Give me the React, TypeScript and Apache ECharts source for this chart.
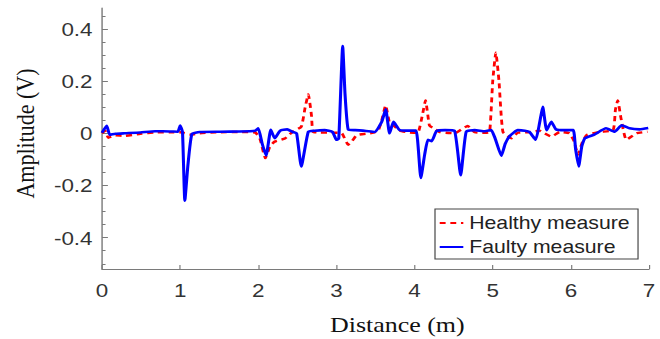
import React, { useEffect, useRef } from "react";
import * as echarts from "echarts";

// ---- data ----
const xTicks = [0, 1, 2, 3, 4, 5, 6, 7];
const yTicks = [-0.4, -0.2, 0, 0.2, 0.4];
const yMinorTicks = [-0.5, -0.45, -0.35, -0.3, -0.25, -0.15, -0.1, -0.05, 0.05, 0.1, 0.15, 0.25, 0.3, 0.35, 0.45];
const seriesNames = ["Healthy measure", "Faulty measure"];

const healthyDistance = [
  0.0, 0.04, 0.08, 0.17, 0.29, 0.49, 0.68, 0.87, 1.0, 1.14, 1.25, 1.51, 1.76, 1.96, 2.02, 2.09, 2.15, 2.21,
  2.34, 2.44, 2.55, 2.6, 2.64, 2.68, 2.7, 2.79, 2.98, 3.07, 3.15, 3.2, 3.26, 3.43, 3.53, 3.58, 3.63, 3.68,
  3.73, 3.81, 3.94, 4.04, 4.1, 4.14, 4.19, 4.24, 4.32, 4.51, 4.68, 4.77, 4.9, 4.96, 5.0, 5.04, 5.08, 5.13,
  5.24, 5.32, 5.47, 5.6, 5.66, 5.75, 5.86, 5.98, 6.04, 6.09, 6.14, 6.2, 6.37, 6.54, 6.57, 6.6, 6.64, 6.71,
  6.84, 6.98,
];
const healthyAmplitude = [
  0.0, 0.01, -0.017, -0.008, -0.01, -0.002, 0.003, 0.004, 0.004, -0.005, 0.0, 0.004, 0.005, 0.003, -0.02,
  -0.095, -0.05, -0.032, -0.02, 0.006, 0.025, 0.1, 0.149, 0.07, 0.006, 0.003, 0.002, 0.0, -0.044, -0.03,
  -0.007, 0.0, 0.008, 0.05, 0.107, 0.04, 0.03, 0.01, 0.003, 0.002, 0.07, 0.126, 0.03, 0.02, 0.005, 0.0,
  0.028, 0.004, 0.002, 0.005, 0.2, 0.309, 0.2, 0.006, -0.019, 0.002, 0.004, 0.01, 0.0, -0.013, 0.005, 0.0,
  -0.03, -0.082, -0.04, -0.007, 0.005, 0.012, 0.09, 0.126, 0.06, -0.025, 0.0, 0.006,
];

const faultyDistance = [
  0.0, 0.06, 0.1, 0.17, 0.29, 0.49, 0.68, 0.87, 0.97, 1.0, 1.03, 1.06, 1.1, 1.15, 1.25, 1.51, 1.76, 1.96,
  2.0, 2.05, 2.1, 2.16, 2.21, 2.28, 2.37, 2.44, 2.49, 2.55, 2.64, 2.72, 2.85, 2.95, 3.0, 3.03, 3.08, 3.11,
  3.15, 3.24, 3.36, 3.49, 3.58, 3.63, 3.68, 3.73, 3.81, 3.94, 4.02, 4.08, 4.13, 4.17, 4.22, 4.28, 4.39,
  4.51, 4.59, 4.66, 4.77, 4.9, 4.98, 5.03, 5.11, 5.16, 5.22, 5.32, 5.41, 5.47, 5.55, 5.6, 5.64, 5.69, 5.75,
  5.81, 5.92, 6.03, 6.06, 6.1, 6.14, 6.18, 6.3, 6.45, 6.56, 6.65, 6.75, 6.88, 6.99,
];
const faultyAmplitude = [
  0.002, 0.029, -0.006, -0.002, 0.0, 0.003, 0.008, 0.007, 0.006, 0.03, 0.005, -0.258, -0.12, -0.003, 0.005,
  0.006, 0.007, 0.01, 0.019, -0.04, -0.085, 0.013, -0.019, 0.01, 0.015, 0.005, 0.0, -0.127, 0.006, 0.01,
  0.012, 0.005, -0.025, -0.02, 0.334, 0.15, 0.015, 0.012, 0.01, 0.005, 0.044, 0.092, 0.0, 0.044, 0.012,
  0.01, 0.01, -0.171, -0.08, -0.025, -0.03, 0.008, 0.012, 0.01, -0.161, 0.006, 0.012, 0.008, 0.012, -0.019,
  -0.086, -0.04, -0.01, 0.012, 0.01, 0.005, -0.025, 0.04, 0.101, 0.012, 0.044, 0.015, 0.012, 0.012, -0.06,
  -0.127, -0.05, -0.019, -0.005, 0.019, 0.006, 0.031, 0.019, 0.015, 0.02,
];

// ---- layout (the reference is horizontally stretched) ----
const STRETCH = 1.18;
const W = 660 / STRETCH;
const H = 339;

const zip = (xs: number[], ys: number[]) => xs.map((x, i) => [x, ys[i]]);

export default function App() {
  const ref = useRef<HTMLDivElement>(null);

  useEffect(() => {
    if (!ref.current) return;
    const chart = echarts.init(ref.current, undefined, { renderer: "svg" });
    const axisColor = "#7a7a7a";
    const gridLeft = 102 / STRETCH;
    const gridRight = W - 649.4 / STRETCH;

    chart.setOption({
      animation: false,
      backgroundColor: "#ffffff",
      grid: {
        left: gridLeft,
        right: gridRight,
        top: 8,
        bottom: 70,
        containLabel: false,
        outerBoundsMode: "none",
      },
      legend: {
        data: seriesNames,
        orient: "vertical",
        left: 435 / STRETCH,
        top: 209,
        itemWidth: 20,
        itemHeight: 14,
        itemGap: 6,
        padding: [5, 7, 3, 3],
        borderColor: "#444",
        borderWidth: 1,
        borderRadius: 0,
        backgroundColor: "#ffffff",
        itemStyle: { opacity: 0 },
        textStyle: { fontFamily: "Liberation Sans", fontSize: 18, color: "#222" },
      },
      xAxis: {
        type: "value",
        min: 0,
        max: 7,
        interval: 1,
        name: "Distance (m)",
        nameLocation: "middle",
        nameGap: 45,
        nameTextStyle: {
          fontFamily: "Liberation Serif",
          fontSize: 22,
          color: "#111",
          padding: [0, 0, 0, 37],
        },
        axisLine: { show: true, onZero: false, lineStyle: { color: axisColor, width: 1.2 } },
        axisTick: { show: true, inside: true, length: 4, lineStyle: { color: axisColor } },
        axisLabel: {
          fontFamily: "Liberation Sans",
          fontSize: 19,
          color: "#333",
          margin: 12,
          customValues: xTicks,
          formatter: (v: number) => String(v),
        },
        splitLine: { show: false },
      },
      yAxis: [
        {
          type: "value",
          min: -0.52,
          max: 0.48,
          name: "Amplitude (V)",
          nameLocation: "middle",
          nameRotate: 90,
          nameGap: 54,
          nameTextStyle: {
            fontFamily: "Liberation Serif",
            fontSize: 22,
            color: "#111",
            padding: [0, 0, 0, 10],
          },
          axisLine: { show: true, onZero: false, lineStyle: { color: axisColor, width: 1.2 } },
          axisTick: {
            show: true,
            inside: true,
            length: 5,
            customValues: yTicks,
            lineStyle: { color: axisColor },
          },
          axisLabel: {
            fontFamily: "Liberation Sans",
            fontSize: 19,
            color: "#333",
            margin: 8,
            padding: [6, 0, 0, 0],
            customValues: yTicks,
            formatter: (v: number) => (Math.abs(v) < 1e-9 ? "0" : String(Math.round(v * 10) / 10)),
          },
          splitLine: { show: false },
        },
        {
          type: "value",
          min: -0.52,
          max: 0.48,
          position: "left",
          axisLine: { show: false },
          axisTick: {
            show: true,
            inside: true,
            length: 3,
            customValues: yMinorTicks,
            lineStyle: { color: axisColor },
          },
          axisLabel: { show: false },
          splitLine: { show: false },
        },
      ],
      series: [
        {
          name: seriesNames[0],
          type: "line",
          yAxisIndex: 0,
          data: zip(healthyDistance, healthyAmplitude),
          symbol: "none",
          smooth: 0.15,
          lineStyle: { color: "#ff0000", width: 2.4, type: [5, 4] },
          itemStyle: { color: "#ff0000" },
          z: 2,
        },
        {
          name: seriesNames[1],
          type: "line",
          yAxisIndex: 0,
          data: zip(faultyDistance, faultyAmplitude),
          symbol: "none",
          smooth: 0.15,
          lineStyle: { color: "#0000ff", width: 2.6, type: "solid" },
          itemStyle: { color: "#0000ff" },
          z: 3,
        },
      ],
    });

    return () => chart.dispose();
  }, []);

  return (
    <div
      style={{
        position: "fixed",
        left: 0,
        top: 0,
        width: 660,
        height: H,
        overflow: "hidden",
        background: "#fff",
      }}
    >
      <div
        ref={ref}
        style={{
          width: W,
          height: H,
          transform: `scaleX(${STRETCH})`,
          transformOrigin: "0 0",
        }}
      />
    </div>
  );
}
